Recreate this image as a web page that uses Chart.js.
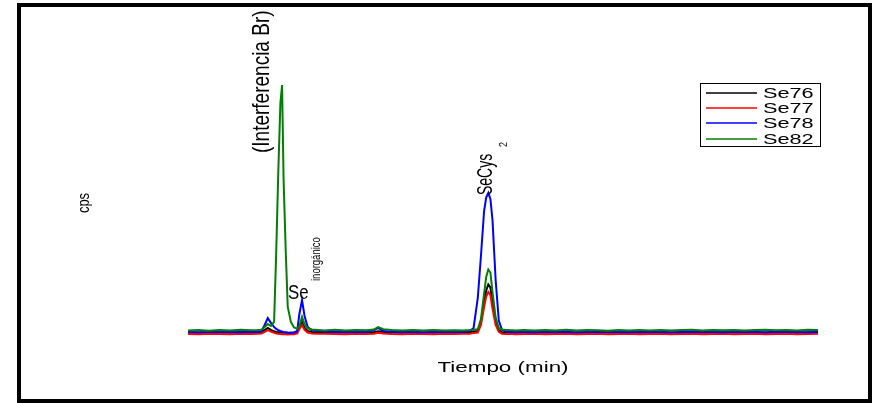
<!DOCTYPE html>
<html>
<head>
<meta charset="utf-8">
<script src="https://cdn.jsdelivr.net/npm/chart.js@4"></script>
<style>
  body { margin: 0; background: #fff; }
  canvas { display: block; }
</style>
</head>
<body>
<canvas id="chromChart" width="873" height="403"></canvas>
<script>
// Cromatograma Se76 / Se77 / Se78 / Se82

const tiempos = [0, 0.5, 1, 1.5, 2, 2.5, 3, 3.3, 3.5, 3.65, 3.8, 3.95, 4.1, 4.2, 4.3, 4.4, 4.48, 4.55, 4.65, 4.75,
  4.9, 5.05, 5.2, 5.3, 5.43, 5.55, 5.7, 5.9, 6.2, 6.5, 7, 7.5, 8, 8.5, 8.85, 9.05, 9.3, 9.7, 10.2, 10.7,
  11.2, 11.7, 12.2, 12.7, 13.1, 13.4, 13.6, 13.8, 13.95, 14.1, 14.2, 14.3, 14.4, 14.5, 14.65, 14.8, 14.95, 15.1, 15.3, 15.6,
  16, 16.5, 17, 17.5, 18, 18.5, 19, 19.5, 20, 20.5, 21, 21.5, 22, 22.5, 23, 23.5, 24, 24.5, 25, 25.5,
  26, 26.5, 27, 27.5, 28, 28.5, 29, 29.5, 30];

const se76 = [2500, 2450, 2550, 2500, 2450, 2550, 2500, 2550, 2700, 3300, 4000, 3400, 2900, 2700, 2600, 2500, 2450, 2400, 2400, 2350,
  2400, 2450, 2700, 4200, 6000, 4000, 3000, 2700, 2600, 2550, 2500, 2450, 2550, 2500, 2600, 2900, 2650, 2500, 2450, 2550,
  2500, 2450, 2550, 2500, 2550, 2600, 2800, 3000, 6000, 12500, 16500, 18500, 17500, 12500, 6000, 3200, 2600, 2500, 2550, 2450,
  2500, 2550, 2450, 2500, 2550, 2450, 2500, 2550, 2450, 2500, 2550, 2450, 2500, 2550, 2450, 2500, 2550, 2450, 2500, 2550,
  2450, 2500, 2550, 2450, 2500, 2550, 2450, 2500, 2550];

const se77 = [2000, 1950, 2050, 2000, 1950, 2050, 2000, 2050, 2200, 2700, 3300, 2800, 2400, 2200, 2100, 2000, 1950, 1900, 1900, 1850,
  1900, 1950, 2200, 3600, 5000, 3400, 2500, 2200, 2100, 2050, 2000, 1950, 2050, 2000, 2100, 2400, 2150, 2000, 1950, 2050,
  2000, 1950, 2050, 2000, 2050, 2100, 2300, 2500, 5000, 11000, 14500, 16000, 15000, 10500, 5000, 2700, 2100, 2000, 2050, 1950,
  2000, 2050, 1950, 2000, 2050, 1950, 2000, 2050, 1950, 2000, 2050, 1950, 2000, 2050, 1950, 2000, 2050, 1950, 2000, 2050,
  1950, 2000, 2050, 1950, 2000, 2050, 1950, 2000, 2050];

const se78 = [2700, 2600, 2750, 2650, 2700, 2600, 2750, 2700, 2900, 5000, 7300, 5700, 4300, 3700, 3300, 3000, 2800, 2700, 2600, 2500,
  2400, 2500, 3000, 8500, 13300, 8000, 4300, 3200, 3000, 2800, 2700, 2650, 2750, 2700, 3200, 4000, 3000, 2750, 2650, 2700,
  2600, 2750, 2650, 2700, 2750, 2900, 4000, 14000, 28000, 43000, 47500, 49000, 47000, 40000, 20000, 6500, 3400, 2900, 2750, 2650,
  2700, 2600, 2750, 2650, 2700, 2600, 2700, 2750, 2650, 2700, 2600, 2750, 2650, 2700, 2600, 2700, 2750, 2650, 2700, 2600,
  2750, 2650, 2700, 2600, 2750, 2650, 2700, 2600, 2700];

const se82 = [3150, 3300, 3100, 3350, 3200, 3400, 3250, 3300, 3400, 4300, 5300, 4700, 6000, 29000, 56000, 79000, 85000, 54000, 30500, 11000,
  6000, 4200, 3800, 4500, 7700, 5200, 3900, 3500, 3350, 3200, 3400, 3150, 3300, 3250, 3500, 4300, 3600, 3300, 3150, 3350,
  3200, 3300, 3150, 3250, 3200, 3300, 3400, 3600, 7000, 15500, 21000, 23500, 22500, 16000, 7500, 4000, 3500, 3400, 3300, 3200,
  3350, 3150, 3300, 3200, 3400, 3150, 3300, 3250, 3100, 3350, 3200, 3300, 3150, 3350, 3200, 3300, 3400, 3150, 3300, 3250,
  3350, 3200, 3300, 3400, 3250, 3350, 3200, 3400, 3300];

const series = [
  { label: 'Se76', data: se76, color: '#000000' },
  { label: 'Se77', data: se77, color: '#ff0000' },
  { label: 'Se78', data: se78, color: '#0000ff' },
  { label: 'Se82', data: se82, color: '#008000' }
];

function drawText(ctx, text, x, y, size, rotate, sx, align) {
  ctx.save();
  ctx.translate(x, y);
  ctx.scale(sx, 1);
  if (rotate) ctx.rotate(-Math.PI / 2);
  ctx.font = size + 'px "Liberation Sans", Arial, sans-serif';
  ctx.textAlign = align || 'left';
  ctx.textBaseline = 'alphabetic';
  ctx.fillStyle = '#000';
  ctx.fillText(text, 0, 0);
  ctx.restore();
}

// marco, leyenda y rótulos
const decorPlugin = {
  id: 'decor',
  afterDraw(chart) {
    const ctx = chart.ctx;
    const xs = chart.scales.x;
    const area = chart.chartArea;

    ctx.save();
    ctx.strokeStyle = '#000';
    ctx.lineWidth = 4;
    ctx.strokeRect(19, 5, 851, 396);
    ctx.restore();

    // ejes
    drawText(ctx, 'Tiempo (min)', (area.left + area.right) / 2, 372, 14, false, 1.6, 'center');
    drawText(ctx, 'cps', 89, 203, 13, true, 1.3, 'center');

    // picos
    const xBr = xs.getPixelForValue(4.48);
    drawText(ctx, '(Interferencia Br)', xBr - 13, 153, 19, true, 1.25, 'left');
    const xIn = xs.getPixelForValue(5.43);
    drawText(ctx, 'Se', xIn - 14, 299, 21, false, 0.8, 'left');
    drawText(ctx, 'inorgánico', xIn + 18, 281, 9.5, true, 1.3, 'left');
    const xCys = xs.getPixelForValue(14.3);
    drawText(ctx, 'SeCys', xCys + 4, 195, 14, true, 1.6, 'left');
    drawText(ctx, '2', xCys + 19, 147, 9, true, 1.3, 'left');

    // leyenda
    ctx.save();
    ctx.strokeStyle = '#000';
    ctx.lineWidth = 1;
    ctx.strokeRect(700.5, 83.5, 120, 63);
    const rows = [93, 108, 123, 139];
    series.forEach((s, i) => {
      ctx.strokeStyle = s.color;
      ctx.lineWidth = 1.5;
      ctx.beginPath();
      ctx.moveTo(706, rows[i]);
      ctx.lineTo(757, rows[i]);
      ctx.stroke();
      drawText(ctx, s.label, 763, rows[i] + 5, 14, false, 1.55, 'left');
    });
    ctx.restore();
  }
};

const ctx1 = document.getElementById('chromChart').getContext('2d');
new Chart(ctx1, {
  type: 'line',
  data: {
    labels: tiempos,
    datasets: series.map((s, i) => ({
      label: s.label,
      data: s.data.map((v, j) => ({ x: tiempos[j], y: v })),
      borderColor: s.color,
      backgroundColor: s.color,
      borderWidth: 2,
      pointRadius: 0,
      tension: 0,
      order: 4 - i
    }))
  },
  options: {
    responsive: false,
    animation: false,
    layout: {
      padding: { left: 188, right: 55, top: 40, bottom: 63 }
    },
    scales: {
      x: { type: 'linear', min: 0, max: 30, display: false },
      y: { min: 0, max: 100000, display: false }
    },
    plugins: {
      legend: { display: false },
      tooltip: { enabled: false }
    }
  },
  plugins: [decorPlugin]
});
</script>
</body>
</html>
